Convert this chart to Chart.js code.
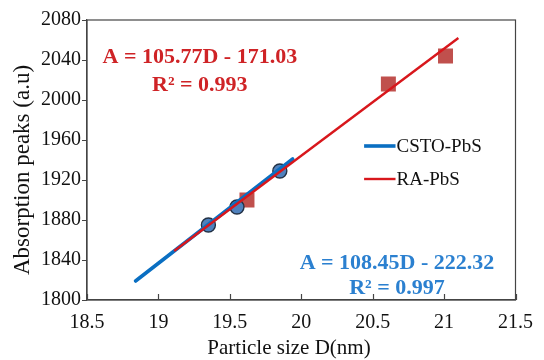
<!DOCTYPE html>
<html>
<head>
<meta charset="utf-8">
<script src="https://cdn.jsdelivr.net/npm/chart.js@4/dist/chart.umd.min.js"></script>
<style>
  html, body { margin: 0; padding: 0; background: #ffffff; }
  #wrap { width: 544px; height: 360px; }
</style>
</head>
<body>
<div id="wrap"><canvas id="c" width="544" height="360"></canvas></div>
<script>
// ---- data ----
const seriesNames = ['CSTO-PbS', 'RA-PbS'];
const cstoD = [19.35, 19.55, 19.85];
const cstoA = [1875, 1893, 1929];
const raD = [19.62, 20.61, 21.01];
const raA = [1900, 2016, 2044];
const cstoFitD = [18.84, 19.94];
const cstoFitA = [1819, 1941];
const raFitD = [19.11, 21.10];
const raFitA = [1849, 2062];
const xTickValues = [18.5, 19, 19.5, 20, 20.5, 21, 21.5];
const yTickValues = [1800, 1840, 1880, 1920, 1960, 2000, 2040, 2080];
const xTitle = 'Particle size D(nm)';
const yTitle = 'Absorption peaks (a.u)';
const raEquation = ['A = 105.77D - 171.03', 'R\u00B2 = 0.993'];
const cstoEquation = ['A = 108.45D - 222.32', 'R\u00B2 = 0.997'];
// annotation / legend anchors in data units
const raEqAt = { x: 19.29, y: [2043, 2015] };
const cstoEqAt = { x: 20.67, y: [1837, 1812] };
const legendAt = { x: [20.44, 20.66], y: [1954, 1921] };

const pts = (xs, ys) => xs.map((x, i) => ({ x: x, y: ys[i] }));

const BLUE_LINE = '#0a6fc2';
const RED_LINE = '#d8171c';
const BLUE_TEXT = '#2b80d0';
const RED_TEXT = '#cf2326';
const FONT = '"Liberation Serif", "Times New Roman", serif';

const framePlugin = {
  id: 'frameAndText',
  afterDatasetsDraw(chart) {
    const { ctx, chartArea: a, scales } = chart;
    const xs = scales.x, ys = scales.y;
    ctx.save();
    // frame
    ctx.strokeStyle = '#454545';
    ctx.lineWidth = 1.2;
    ctx.strokeRect(a.left, a.top, a.right - a.left, a.bottom - a.top);
    // inward x ticks
    xTickValues.forEach(v => {
      const px = Math.round(xs.getPixelForValue(v)) + 0.5;
      ctx.beginPath();
      ctx.moveTo(px, a.bottom);
      ctx.lineTo(px, a.bottom - 6);
      ctx.stroke();
    });
    // equations
    ctx.font = 'bold 22px ' + FONT;
    ctx.textAlign = 'center';
    ctx.textBaseline = 'middle';
    ctx.fillStyle = RED_TEXT;
    raEquation.forEach((t, i) => ctx.fillText(t, xs.getPixelForValue(raEqAt.x), ys.getPixelForValue(raEqAt.y[i])));
    ctx.fillStyle = BLUE_TEXT;
    cstoEquation.forEach((t, i) => ctx.fillText(t, xs.getPixelForValue(cstoEqAt.x), ys.getPixelForValue(cstoEqAt.y[i])));
    // legend
    const lx0 = xs.getPixelForValue(legendAt.x[0]), lx1 = xs.getPixelForValue(legendAt.x[1]);
    const legColors = [BLUE_LINE, RED_LINE];
    const legWidths = [3.6, 2.4];
    ctx.font = '19px ' + FONT;
    ctx.textAlign = 'left';
    ctx.fillStyle = '#111111';
    seriesNames.forEach((n, i) => {
      const ly = ys.getPixelForValue(legendAt.y[i]);
      ctx.strokeStyle = legColors[i];
      ctx.lineWidth = legWidths[i];
      ctx.beginPath();
      ctx.moveTo(lx0, ly);
      ctx.lineTo(lx1, ly);
      ctx.stroke();
      ctx.fillText(n, lx1 + 1, ly + 1);
    });
    // axis titles
    ctx.fillStyle = '#111111';
    ctx.textAlign = 'center';
    ctx.font = '21px ' + FONT;
    ctx.fillText(xTitle, a.left + 202, 348);
    ctx.save();
    ctx.translate(23, a.top + 150);
    ctx.rotate(-Math.PI / 2);
    ctx.font = '23px ' + FONT;
    ctx.fillText(yTitle, 0, 0);
    ctx.restore();
    ctx.restore();
  }
};

new Chart(document.getElementById('c'), {
  type: 'scatter',
  data: {
    datasets: [
      { label: seriesNames[1] + ' fit', type: 'line', data: pts(raFitD, raFitA), borderColor: RED_LINE, borderWidth: 2.4, pointRadius: 0, fill: false, order: 0 },
      { label: seriesNames[0] + ' fit', type: 'line', data: pts(cstoFitD, cstoFitA), borderColor: BLUE_LINE, borderWidth: 3.6, pointRadius: 0, fill: false, borderCapStyle: 'round', order: 1 },
      { label: seriesNames[0], data: pts(cstoD, cstoA), pointStyle: 'circle', pointRadius: 7, backgroundColor: '#4f81bd', borderColor: '#233246', borderWidth: 1.4, order: 2 },
      { label: seriesNames[1], data: pts(raD, raA), pointStyle: 'rect', pointRadius: 10.6, backgroundColor: '#c0504d', borderColor: '#c0504d', borderWidth: 0, order: 3 }
    ]
  },
  options: {
    responsive: false,
    animation: false,
    devicePixelRatio: 1,
    layout: { padding: { top: 20, right: 23, left: 0, bottom: 0 } },
    plugins: { legend: { display: false }, tooltip: { enabled: false } },
    scales: {
      x: {
        type: 'linear', min: 18.5, max: 21.5,
        afterBuildTicks: s => { s.ticks = xTickValues.map(v => ({ value: v })); },
        afterFit: s => { s.height = 60; },
        grid: { display: true, drawOnChartArea: false, drawTicks: false },
        border: { display: true, color: '#454545', width: 1.2 },
        ticks: { padding: 11, color: '#111111', font: { family: FONT, size: 20 }, callback: v => String(v), maxRotation: 0 },
        title: { display: false }
      },
      y: {
        type: 'linear', min: 1800, max: 2080,
        afterBuildTicks: s => { s.ticks = yTickValues.map(v => ({ value: v })); },
        afterFit: s => { s.width = 87; },
        grid: { display: true, drawOnChartArea: false, drawTicks: true, tickLength: 5, color: '#454545' },
        border: { display: true, color: '#454545', width: 1.2 },
        ticks: { padding: 1, color: '#111111', font: { family: FONT, size: 20 }, callback: v => String(v) },
        title: { display: false }
      }
    }
  },
  plugins: [framePlugin]
});
</script>
</body>
</html>
